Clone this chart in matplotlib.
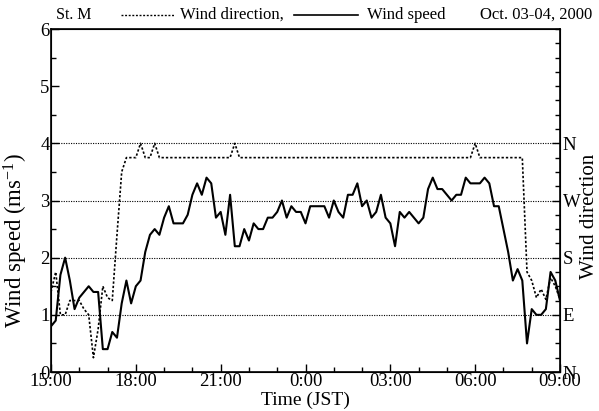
import numpy as np
import matplotlib
matplotlib.use("Agg")
import matplotlib.pyplot as plt
from matplotlib.lines import Line2D
from matplotlib.ticker import MultipleLocator

plt.rcParams['font.family'] = ['Liberation Serif', 'DejaVu Serif']
plt.rcParams['mathtext.fontset'] = 'custom'
plt.rcParams['mathtext.rm'] = 'Liberation Serif'
plt.rcParams['mathtext.it'] = 'Liberation Serif:italic'

# ---- data (10-minute samples from 15:00 Oct 03 to 09:00 Oct 04) ----
step_minutes = 10
wind_speed = [0.8, 0.9, 1.7, 2.0, 1.6, 1.1, 1.3, 1.4, 1.5, 1.4,
              1.4, 0.4, 0.4, 0.7, 0.6, 1.2, 1.6, 1.2, 1.5, 1.6,
              2.1, 2.4, 2.5, 2.4, 2.7, 2.9, 2.6, 2.6, 2.6, 2.75,
              3.1, 3.3, 3.1, 3.4, 3.3, 2.7, 2.8, 2.4, 3.1, 2.2,
              2.2, 2.5, 2.3, 2.6, 2.5, 2.5, 2.7, 2.7, 2.8, 3.0,
              2.7, 2.9, 2.8, 2.8, 2.6, 2.9, 2.9, 2.9, 2.9, 2.7,
              3.0, 2.8, 2.7, 3.1, 3.1, 3.3, 2.9, 3.0, 2.7, 2.8,
              3.1, 2.7, 2.6, 2.2, 2.8, 2.7, 2.8, 2.7, 2.6, 2.7,
              3.2, 3.4, 3.2, 3.2, 3.1, 3.0, 3.1, 3.1, 3.4, 3.3,
              3.3, 3.3, 3.4, 3.3, 2.9, 2.9, 2.5, 2.1, 1.6, 1.8,
              1.6, 0.5, 1.1, 1.0, 1.0, 1.1, 1.75, 1.6, 1.25]

# wind direction in quadrant units: N=0, E=1, S=2, W=3, N=4
wind_direction = [1.4, 1.75, 1.0, 1.0, 1.25, 1.25, 1.25, 1.1, 1.0, 0.25,
                  0.75, 1.5, 1.3, 1.25, 2.4, 3.5, 3.75, 3.75, 3.75, 4.0,
                  3.75, 3.75, 4.0, 3.75, 3.75, 3.75, 3.75, 3.75, 3.75, 3.75,
                  3.75, 3.75, 3.75, 3.75, 3.75, 3.75, 3.75, 3.75, 3.75, 4.0,
                  3.75, 3.75, 3.75, 3.75, 3.75, 3.75, 3.75, 3.75, 3.75, 3.75,
                  3.75, 3.75, 3.75, 3.75, 3.75, 3.75, 3.75, 3.75, 3.75, 3.75,
                  3.75, 3.75, 3.75, 3.75, 3.75, 3.75, 3.75, 3.75, 3.75, 3.75,
                  3.75, 3.75, 3.75, 3.75, 3.75, 3.75, 3.75, 3.75, 3.75, 3.75,
                  3.75, 3.75, 3.75, 3.75, 3.75, 3.75, 3.75, 3.75, 3.75, 3.75,
                  4.0, 3.75, 3.75, 3.75, 3.75, 3.75, 3.75, 3.75, 3.75, 3.75,
                  3.75, 1.75, 1.6, 1.3, 1.45, 1.27, 1.65, 1.5, 1.27]

time_tick_hours = [0, 3, 6, 9, 12, 15, 18]
time_tick_labels = ["15:00", "18:00", "21:00", "0:00", "03:00", "06:00", "09:00"]
dir_tick_values = [0, 1, 2, 3, 4]
dir_tick_labels = ["N", "E", "S", "W", "N"]
speed_ticks = [0, 1, 2, 3, 4, 5, 6]

t = np.arange(len(wind_speed)) * step_minutes / 60.0

fig = plt.figure(figsize=(5.99, 4.11), dpi=100)
ax = fig.add_axes([51/599, 39/411, 509/599, 343/411])

ax.plot(t, wind_direction, color='black', lw=1.2, ls=(0, (1.4, 1.2)))
ax.plot(t, wind_speed, color='black', lw=1.5)

ax.set_xlim(0, 18)
ax.set_ylim(0, 6)
ax.set_xticks(time_tick_hours)
ax.set_xticklabels(time_tick_labels)
ax.xaxis.set_minor_locator(MultipleLocator(1))
ax.set_yticks(speed_ticks)
ax.yaxis.set_minor_locator(MultipleLocator(0.5))
ax.tick_params(which='both', direction='in', top=False, right=False,
               labelsize=13.5, pad=1)
ax.tick_params(which='major', length=6, width=1)
ax.tick_params(which='minor', length=3.5, width=1)

for s in ax.spines.values():
    s.set_linewidth(1.2)

ax2 = ax.twinx()
ax2.set_ylim(0, 6)
ax2.set_yticks(dir_tick_values)
ax2.set_yticklabels(dir_tick_labels)
ax2.yaxis.set_minor_locator(MultipleLocator(0.25))
ax2.tick_params(which='both', direction='in', labelsize=13.5, pad=2)
ax2.tick_params(which='major', length=6, width=1)
ax2.tick_params(which='minor', length=3.5, width=1)
for v in dir_tick_values[1:]:
    ax.axhline(v, color='black', lw=0.8, ls=(0, (1, 1.2)), zorder=0)

# axis titles
fig.text(305/599, 1 - 400/411, "Time (JST)", fontsize=14, ha='center', va='center')
fig.text(16/599, 1 - 240/411, "Wind speed (ms$^{-1}$)", fontsize=16.5,
         rotation=90, ha='center', va='center')
fig.text(590/599, 1 - 216/411, "Wind direction", fontsize=15,
         rotation=90, ha='center', va='center')

# header legend
y_head = 1 - 15/411
fig.text(56/599, y_head, "St. M", fontsize=11.5, va='center', ha='left')
fig.add_artist(Line2D([121/599, 175/599], [y_head, y_head], color='black',
                      lw=1.0, ls=(0, (1.4, 1.2))))
fig.text(180/599, y_head, "Wind direction,", fontsize=12, va='center', ha='left')
fig.add_artist(Line2D([294/599, 358/599], [y_head, y_head], color='black', lw=1.2))
fig.text(367/599, y_head, "Wind speed", fontsize=12, va='center', ha='left')
fig.text(592/599, y_head, "Oct. 03-04, 2000", fontsize=12, va='center', ha='right')

fig.savefig("out.png", dpi=100)
